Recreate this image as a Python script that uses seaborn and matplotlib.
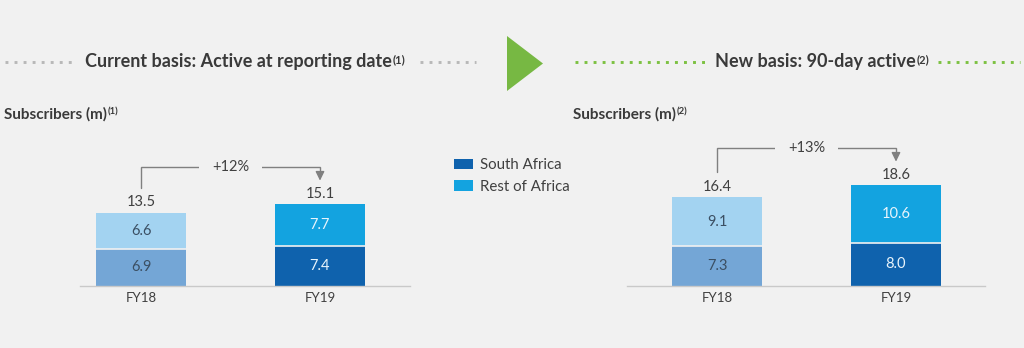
import matplotlib
matplotlib.use("Agg")
import matplotlib.pyplot as plt
from matplotlib.patches import Patch, Polygon
import seaborn as sns
import pandas as pd

# Subscribers (m) by year, split South Africa / Rest of Africa
years = ["FY18", "FY19"]
current_sa = [6.9, 7.4]
current_roa = [6.6, 7.7]
current_total = [13.5, 15.1]
current_growth = "+12%"

new_sa = [7.3, 8.0]
new_roa = [9.1, 10.6]
new_total = [16.4, 18.6]
new_growth = "+13%"

BG = "#f1f1f1"
SA_COLORS = ["#74a6d6", "#0f62ad"]
ROA_COLORS = ["#a3d3f1", "#13a3e0"]
SEG_TEXT = ["#3b4f63", "#e8f4fc"]
GRAY_TXT = "#404040"
LINE_GRAY = "#808080"

sns.set_theme(style="white")
plt.rcParams["font.family"] = ["Lato", "DejaVu Sans"]

W, H = 1024, 348
fig = plt.figure(figsize=(W / 100, H / 100), dpi=100, facecolor=BG)

# Full-figure overlay in pixel units for headers and separators
deco = fig.add_axes([0, 0, 1, 1], facecolor="none")
deco.set_xlim(0, W)
deco.set_ylim(H, 0)
deco.axis("off")

PX_PER_UNIT = 5.43
BASE_PX = 286
YMAX = 27.0


def axes_rect(x0, x1):
    top_px = BASE_PX - YMAX * PX_PER_UNIT
    return [x0 / W, (H - BASE_PX) / H, (x1 - x0) / W, (BASE_PX - top_px) / H]


def draw_panel(ax, sa, roa, total, growth):
    df = pd.DataFrame({"year": years, "sa": sa, "total": total})
    ax.set_facecolor("none")
    sns.barplot(data=df, x="year", y="total", hue="year", palette=ROA_COLORS,
                width=0.5, legend=False, ax=ax, saturation=1, edgecolor="none")
    sns.barplot(data=df, x="year", y="sa", hue="year", palette=SA_COLORS,
                width=0.5, legend=False, ax=ax, saturation=1, edgecolor="none")
    # thin separators between segments
    for i, s in enumerate(sa):
        ax.plot([i - 0.25, i + 0.25], [s, s], color=BG, lw=1.2, zorder=3)
    ax.set_ylim(0, YMAX)
    for i in range(len(years)):
        ax.text(i, sa[i] / 2, f"{sa[i]:.1f}", ha="center", va="center",
                fontsize=10.5, color=SEG_TEXT[i], zorder=4)
        ax.text(i, sa[i] + roa[i] / 2, f"{roa[i]:.1f}", ha="center", va="center",
                fontsize=10.5, color=SEG_TEXT[i], zorder=4)
        ax.text(i, total[i] + 0.6, f"{total[i]:.1f}", ha="center", va="bottom",
                fontsize=10.5, color=GRAY_TXT)
    # growth bracket
    top = max(total) + 6.9
    y0 = total[0] + 4.6
    y1 = total[1] + 4.3
    ax.plot([0, 0, 1, 1], [y0, top, top, y1 + 0.9], color=LINE_GRAY, lw=1.0,
            solid_joinstyle="miter")
    ax.annotate("", xy=(1, y1), xytext=(1, y1 + 1.0),
                arrowprops=dict(arrowstyle="-|>,head_width=0.22,head_length=0.45",
                                color=LINE_GRAY, lw=1.0, shrinkA=0, shrinkB=0))
    ax.text(0.5, top, growth, ha="center", va="center", fontsize=10.5,
            color=GRAY_TXT,
            bbox=dict(boxstyle="square,pad=0.9", fc=BG, ec="none"))
    ax.set_xlabel("")
    ax.set_ylabel("")
    ax.set_yticks([])
    ax.tick_params(axis="x", length=0, labelsize=9.5, labelcolor=GRAY_TXT, pad=4)
    for side in ["top", "left", "right"]:
        ax.spines[side].set_visible(False)
    ax.spines["bottom"].set_color("#c9c9c9")
    ax.spines["bottom"].set_linewidth(1.0)


CAT_STEP = 179
ax1 = fig.add_axes(axes_rect(80, 410))
draw_panel(ax1, current_sa, current_roa, current_total, current_growth)
ax1.set_xlim((80 - 141) / CAT_STEP, (410 - 141) / CAT_STEP)

ax2 = fig.add_axes(axes_rect(627, 985))
draw_panel(ax2, new_sa, new_roa, new_total, new_growth)
ax2.set_xlim((627 - 717) / CAT_STEP, (985 - 717) / CAT_STEP)


def header(x, y, main, sup, size=12):
    t = deco.text(x, y, main, ha="left", va="center", fontsize=size,
                  fontweight="bold", color="#3a3a3a")
    deco.annotate(sup, xy=(1, 1), xycoords=t, xytext=(0.3, -0.5),
                  textcoords="offset points", ha="left", va="top",
                  fontsize=size * 0.62, fontweight="bold", color="#3a3a3a")
    return t


header(85, 62, "Current basis: Active at reporting date", "(1)", size=13)
header(715, 62, "New basis: 90-day active", "(2)", size=13)
header(4, 114, "Subscribers (m)", "(1)", size=11)
header(573, 114, "Subscribers (m)", "(2)", size=11)

dot = dict(lw=2.1, linestyle=(0, (1, 2.1)), solid_capstyle="butt")
deco.plot([5, 76], [62, 62], color="#b8b8b8", **dot)
deco.plot([420, 476], [62, 62], color="#b8b8b8", **dot)
deco.plot([575, 705], [62, 62], color="#7cc142", **dot)
deco.plot([938, 1020], [62, 62], color="#7cc142", **dot)

deco.add_patch(Polygon([[507, 36], [507, 91], [543, 63.5]], closed=True,
                       fc="#77b843", ec="none"))

handles = [Patch(fc=SA_COLORS[1], ec="none", label="South Africa"),
           Patch(fc=ROA_COLORS[1], ec="none", label="Rest of Africa")]
fig.legend(handles=handles, loc="upper left",
           bbox_to_anchor=(454 / W, 1 - 158 / H), frameon=False,
           fontsize=10.8, labelcolor=GRAY_TXT, handlelength=1.25,
           handleheight=0.7, handletextpad=0.45, labelspacing=0.5,
           borderaxespad=0, borderpad=0)

fig.savefig("out.png", dpi=100, facecolor=BG)
